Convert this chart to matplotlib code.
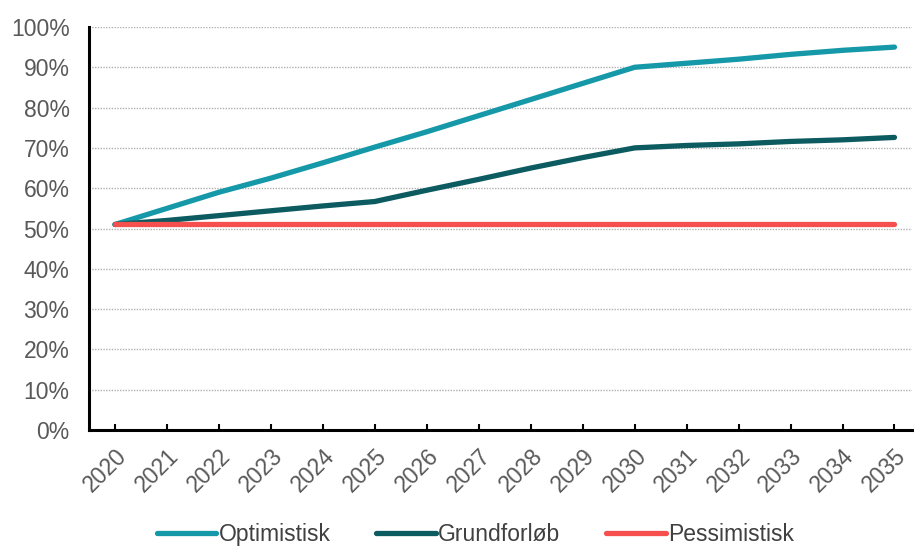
import matplotlib.pyplot as plt
from matplotlib.ticker import PercentFormatter

plt.rcParams['font.family'] = ['Liberation Sans', 'DejaVu Sans']

years = list(range(2020, 2036))
optimistisk = [51, 55, 59, 62.5, 66.3, 70.2, 74, 78, 82, 86, 90, 91, 92, 93.2, 94.2, 95]
grundforloeb = [51, 52, 53.2, 54.4, 55.6, 56.7, 59.5, 62.2, 65, 67.6, 70, 70.6, 71, 71.6, 72, 72.6]
pessimistisk = [51] * 16

labels = ['Optimistisk', 'Grundforløb', 'Pessimistisk']
colors = ['#1598A7', '#0C5B60', '#F5504E']

fig = plt.figure(figsize=(9.14, 5.5), dpi=100)
ax = fig.add_axes([0.0974, 0.218, 0.9, 0.733])

for series, lab, col in zip([optimistisk, grundforloeb, pessimistisk], labels, colors):
    ax.plot(years, series, color=col, lw=3.8, label=lab, solid_capstyle='round')

ax.set_ylim(0, 100)
ax.set_xlim(2019.5, 2035.33)
ax.set_yticks(range(0, 101, 10))
ax.yaxis.set_major_formatter(PercentFormatter(decimals=0))
ax.set_xticks(years)
ax.set_xticklabels([str(y) for y in years], rotation=45, ha='right', rotation_mode='anchor')

ax.grid(axis='y', color='#b0b0b0', linestyle=(0, (1, 1)), lw=1)
ax.set_axisbelow(True)
for s in ['top', 'right']:
    ax.spines[s].set_visible(False)
ax.spines['left'].set_linewidth(2.2)
ax.spines['bottom'].set_linewidth(2.2)
ax.tick_params(axis='y', length=0, labelsize=16.5, labelcolor='#595959', pad=14)
ax.tick_params(axis='x', direction='in', length=4, width=1.5, labelsize=16.5, labelcolor='#595959', pad=10)

fig.legend(loc='center', bbox_to_anchor=(0.52, 0.028), ncol=3, frameon=False,
           fontsize=16.5, labelcolor='#404040', handlelength=2.6, handletextpad=0.1,
           columnspacing=2.0)

fig.savefig('out.png', dpi=100)
